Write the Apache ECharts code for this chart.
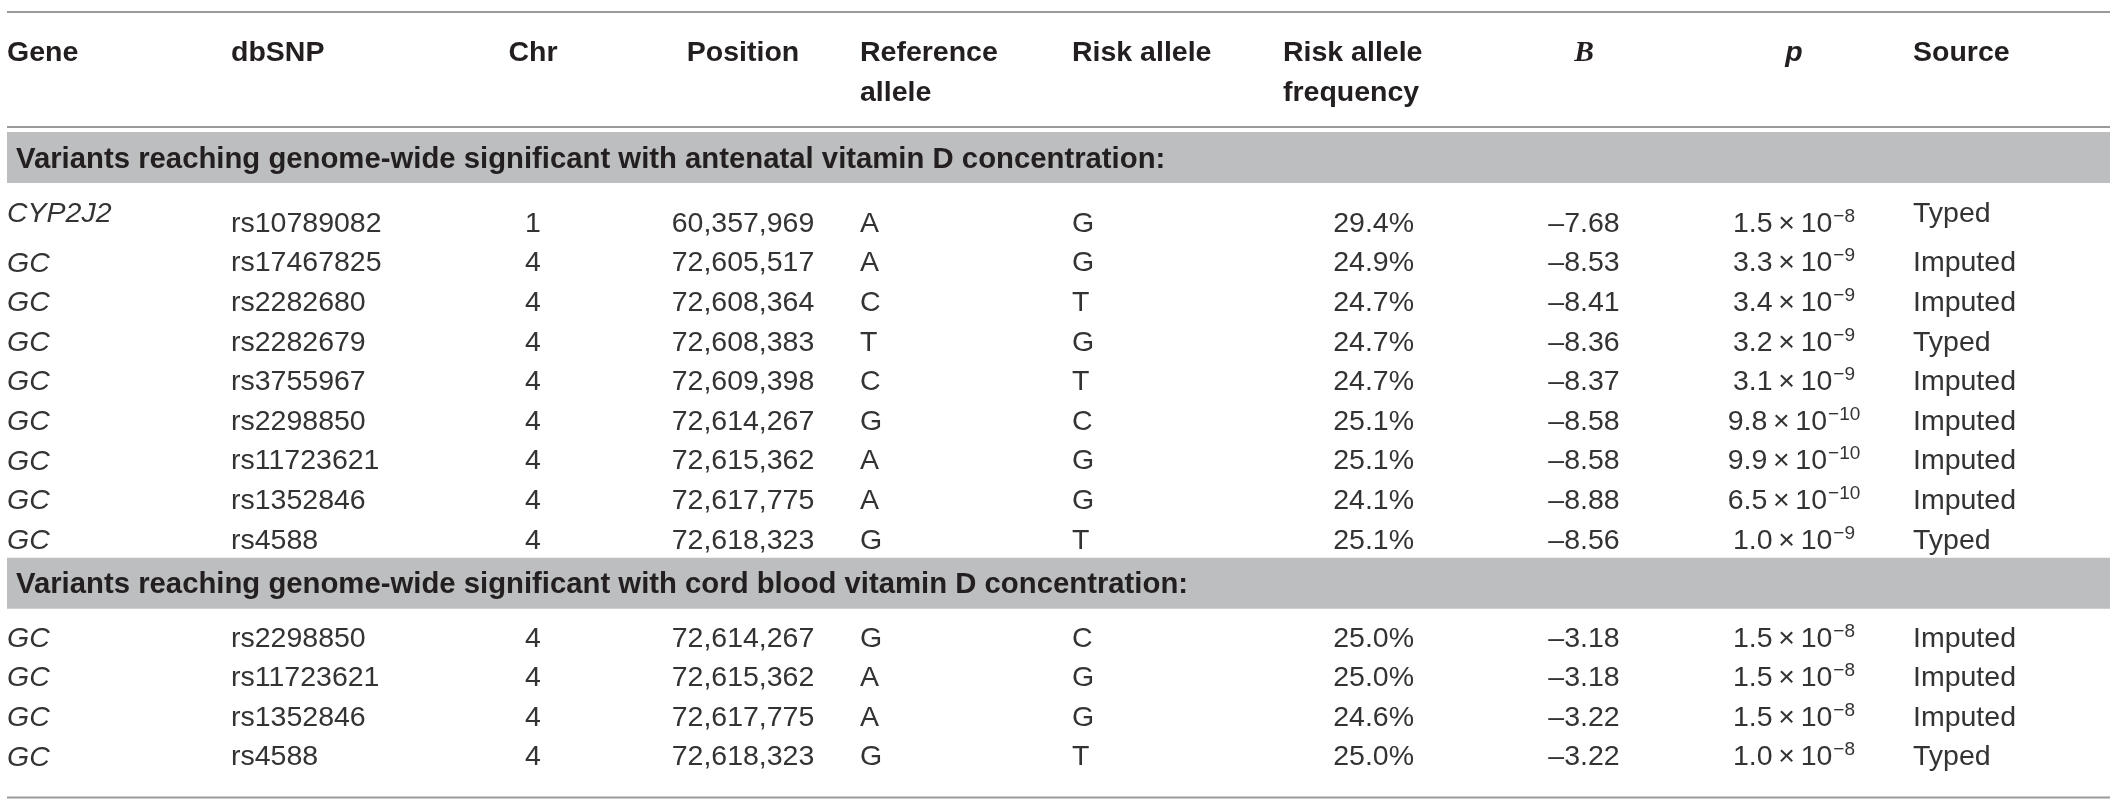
<!DOCTYPE html>
<html>
<head>
<meta charset="utf-8">
<script src="https://cdn.jsdelivr.net/npm/echarts@6/dist/echarts.min.js"></script>
<style>
html,body{margin:0;padding:0;background:#fff;}
#chart{width:2120px;height:808px;}
</style>
</head>
<body>
<div id="chart"></div>
<script>
// ---------------- DATA ----------------
const headers = [['Gene'], ['dbSNP'], ['Chr'], ['Position'], ['Reference', 'allele'], ['Risk allele'], ['Risk allele', 'frequency'], ['B'], ['p'], ['Source']];
const sectionTitles = [
  'Variants reaching genome-wide significant with antenatal vitamin D concentration:',
  'Variants reaching genome-wide significant with cord blood vitamin D concentration:'
];
const sectionSizes = [9, 4];
const genes = ['CYP2J2', 'GC', 'GC', 'GC', 'GC', 'GC', 'GC', 'GC', 'GC', 'GC', 'GC', 'GC', 'GC'];
const snps = ['rs10789082', 'rs17467825', 'rs2282680', 'rs2282679', 'rs3755967', 'rs2298850', 'rs11723621', 'rs1352846', 'rs4588',
              'rs2298850', 'rs11723621', 'rs1352846', 'rs4588'];
const chrs = [1, 4, 4, 4, 4, 4, 4, 4, 4, 4, 4, 4, 4];
const positions = [60357969, 72605517, 72608364, 72608383, 72609398, 72614267, 72615362, 72617775, 72618323,
                   72614267, 72615362, 72617775, 72618323];
const refAlleles = ['A', 'A', 'C', 'T', 'C', 'G', 'A', 'A', 'G', 'G', 'A', 'A', 'G'];
const riskAlleles = ['G', 'G', 'T', 'G', 'T', 'C', 'G', 'G', 'T', 'C', 'G', 'G', 'T'];
const riskFreqs = [29.4, 24.9, 24.7, 24.7, 24.7, 25.1, 25.1, 24.1, 25.1, 25.0, 25.0, 24.6, 25.0];
const betas = [-7.68, -8.53, -8.41, -8.36, -8.37, -8.58, -8.58, -8.88, -8.56, -3.18, -3.18, -3.22, -3.22];
const pMantissas = [1.5, 3.3, 3.4, 3.2, 3.1, 9.8, 9.9, 6.5, 1.0, 1.5, 1.5, 1.5, 1.0];
const pExponents = [-8, -9, -9, -9, -9, -10, -10, -10, -9, -8, -8, -8, -8];
const sources = ['Typed', 'Imputed', 'Imputed', 'Typed', 'Imputed', 'Imputed', 'Imputed', 'Imputed', 'Typed',
                 'Imputed', 'Imputed', 'Imputed', 'Typed'];

// ---------------- LAYOUT (pixel units of the hidden value axes) ----------------
const W = 2120, H = 808;
const L = {
  left: 7, right: 2110,
  topLine: 12, headLine1: 53, headLine2: 93, headBottom: 127,
  bandGap: 5, bandH: 51, firstRowOffset: [41, 30], rowStep: 39.6, afterSection: 17, bottomGap: 40,
  raised: 10
};
// column anchors: [x, header align, body align]
const colX = [
  [7, 'left', 'left'], [231, 'left', 'left'], [533, 'center', 'center'], [743, 'center', 'center'],
  [860, 'left', 'left'], [1072, 'left', 'left'], [1283, 'left', 'right'], [1584, 'center', 'center'],
  [1794, 'center', 'center'], [1913, 'left', 'left']
];
const freqRight = 1414;

const FONT = '"Liberation Sans", Arial, Helvetica, sans-serif';
const FS = 28.5;
const BAND_FS = 29.3;
const headColor = '#231f20';
const bodyColor = '#333333';
const lineColor = '#9a9a9a';
const bandColor = '#bcbec0';

// compute band and row slots
const bandTops = [];
const rowY = [];
let y = L.headBottom + L.bandGap;
sectionSizes.forEach((n, s) => {
  bandTops.push(y);
  let ry = y + L.bandH + L.firstRowOffset[s];
  for (let k = 0; k < n; k++) {
    rowY.push(ry);
    ry += L.rowStep;
  }
  y = ry - L.rowStep + L.afterSection;
});
const bottomLine = rowY[rowY.length - 1] + L.bottomGap;

function fmtPos(v) { return v.toLocaleString('en-US'); }
function fmtBeta(v) { return (v < 0 ? '\u2013' : '') + Math.abs(v).toFixed(2); }
function txt(text, x, y, font, color, align) {
  return {
    type: 'text',
    style: { text: text, x: x, y: y, font: font, fill: color, align: align, verticalAlign: 'middle', textAlign: align, textVerticalAlign: 'middle' }
  };
}

const chart = echarts.init(document.getElementById('chart'), null, { renderer: 'canvas' });

const rowsData = genes.map((g, i) => [i]);

const option = {
  animation: false,
  backgroundColor: '#ffffff',
  grid: { left: 0, right: 0, top: 0, bottom: 0 },
  xAxis: { type: 'value', min: 0, max: W, show: false },
  yAxis: { type: 'value', min: 0, max: H, inverse: true, show: false },
  series: [
    // frame: rules and header
    {
      type: 'custom', silent: true, data: [[0]],
      renderItem: function (params, api) {
        const ch = [];
        const p = (x, yy) => api.coord([x, yy]);
        const hline = (yy, w) => {
          const a = p(L.left, yy), b = p(L.right, yy);
          return { type: 'line', shape: { x1: a[0], y1: a[1], x2: b[0], y2: b[1] }, style: { stroke: lineColor, lineWidth: w } };
        };
        ch.push(hline(L.topLine, 2));
        ch.push(hline(L.headBottom, 2));
        ch.push(hline(bottomLine, 2));
        headers.forEach((lines, c) => {
          const [x, ha] = colX[c];
          lines.forEach((t, li) => {
            const pt = p(x, li === 0 ? L.headLine1 : L.headLine2);
            let font = 'bold ' + FS + 'px ' + FONT;
            if (t === 'B') font = 'italic bold ' + (FS + 1) + 'px "Liberation Serif", "Times New Roman", serif';
            if (t === 'p') font = 'italic bold ' + FS + 'px ' + FONT;
            ch.push(txt(t, pt[0], pt[1], font, headColor, ha));
          });
        });
        return { type: 'group', children: ch };
      }
    },
    // section bands
    {
      type: 'custom', silent: true, data: sectionTitles.map((t, i) => [i]),
      renderItem: function (params, api) {
        const s = api.value(0);
        const a = api.coord([L.left, bandTops[s]]);
        const b = api.coord([L.right, bandTops[s] + L.bandH]);
        const t = api.coord([16, bandTops[s] + L.bandH / 2 + 2]);
        return {
          type: 'group', children: [
            { type: 'rect', shape: { x: a[0], y: a[1], width: b[0] - a[0], height: b[1] - a[1] }, style: { fill: bandColor } },
            txt(sectionTitles[s], t[0], t[1], 'bold ' + BAND_FS + 'px ' + FONT, headColor, 'left')
          ]
        };
      }
    },
    // body rows
    {
      type: 'custom', silent: true, data: rowsData,
      renderItem: function (params, api) {
        const i = api.value(0);
        const yy = rowY[i];
        const isFirst = i === 0;
        const yRaised = isFirst ? yy - L.raised : yy;
        const reg = FS + 'px ' + FONT;
        const ita = 'italic ' + FS + 'px ' + FONT;
        const c = (col, yv) => api.coord([colX[col][0], yv]);
        const ch = [];
        let pt;
        pt = c(0, yRaised); ch.push(txt(genes[i], pt[0], pt[1], ita, bodyColor, 'left'));
        pt = c(1, yy); ch.push(txt(snps[i], pt[0], pt[1], reg, bodyColor, 'left'));
        pt = c(2, yy); ch.push(txt(String(chrs[i]), pt[0], pt[1], reg, bodyColor, 'center'));
        pt = c(3, yy); ch.push(txt(fmtPos(positions[i]), pt[0], pt[1], reg, bodyColor, 'center'));
        pt = c(4, yy); ch.push(txt(refAlleles[i], pt[0], pt[1], reg, bodyColor, 'left'));
        pt = c(5, yy); ch.push(txt(riskAlleles[i], pt[0], pt[1], reg, bodyColor, 'left'));
        pt = api.coord([freqRight, yy]); ch.push(txt(riskFreqs[i].toFixed(1) + '%', pt[0], pt[1], reg, bodyColor, 'right'));
        pt = c(7, yy); ch.push(txt(fmtBeta(betas[i]), pt[0], pt[1], reg, bodyColor, 'center'));
        // p value with superscript exponent
        pt = c(8, yy);
        const expStr = (pExponents[i] < 0 ? '\u2212' : '') + Math.abs(pExponents[i]);
        ch.push({
          type: 'text',
          style: {
            text: '{m|' + pMantissas[i].toFixed(1) + '\u2009\u00d7\u200910}{s|' + expStr + '}',
            x: pt[0], y: pt[1], align: 'center', verticalAlign: 'middle',
            textAlign: 'center', textVerticalAlign: 'middle',
            rich: {
              m: { font: reg, fill: bodyColor, lineHeight: 34, verticalAlign: 'middle' },
              s: { font: '19px ' + FONT, fill: bodyColor, lineHeight: 34, verticalAlign: 'top', padding: [0, 0, 0, 1] }
            }
          }
        });
        pt = c(9, yRaised); ch.push(txt(sources[i], pt[0], pt[1], reg, bodyColor, 'left'));
        return { type: 'group', children: ch };
      }
    }
  ]
};
chart.setOption(option);
</script>
</body>
</html>
